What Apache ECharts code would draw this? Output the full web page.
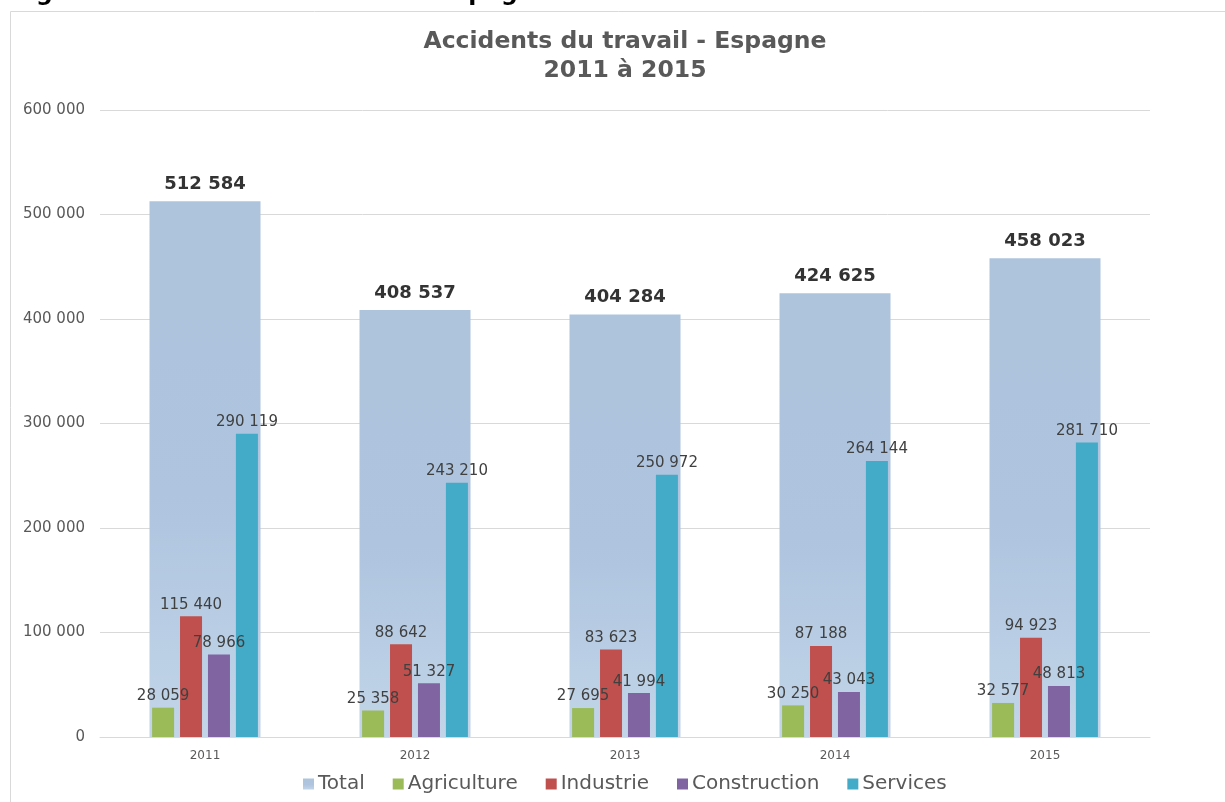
<!DOCTYPE html>
<html>
<head>
<meta charset="utf-8">
<title>Accidents du travail - Espagne</title>
<script src="https://cdn.jsdelivr.net/npm/echarts@6/dist/echarts.min.js"></script>
<style>
  html, body { margin: 0; padding: 0; background: #fff; }
  #chart { width: 1225px; height: 802px; }
</style>
</head>
<body>
<div id="chart"></div>
<script>
  // données
  const years = ['2011', '2012', '2013', '2014', '2015'];
  const total = [512584, 408537, 404284, 424625, 458023];
  const agriculture = [28059, 25358, 27695, 30250, 32577];
  const industrie = [115440, 88642, 83623, 87188, 94923];
  const construction = [78966, 51327, 41994, 43043, 48813];
  const services = [290119, 243210, 250972, 264144, 281710];
  const yTicks = [0, 100000, 200000, 300000, 400000, 500000, 600000];

  const font = 'DejaVu Sans, Verdana, sans-serif';
  const fmt = v => String(v).replace(/\B(?=(\d{3})+(?!\d))/g, ' ');

  const chart = echarts.init(document.getElementById('chart'));

  const subSerie = (name, data, color) => ({
    name: name,
    type: 'bar',
    xAxisIndex: 1,
    yAxisIndex: 0,
    barWidth: 22,
    barGap: '27%',
    data: data,
    itemStyle: {color: color},
    label: {
      show: true,
      position: 'top',
      distance: 4,
      color: '#404040',
      fontFamily: font,
      fontSize: 15,
      formatter: p => fmt(p.value),
    },
    z: 3,
  });

  chart.setOption({
    animation: false,
    graphic: [
      {
        type: 'rect',
        shape: {x: 10.5, y: 11.5, width: 1240, height: 820},
        style: {fill: 'none', stroke: '#d9d9d9', lineWidth: 1},
        silent: true,
      },
      {
        // légende de la figure, coupée en haut de l'image
        type: 'text',
        x: 12,
        y: -18,
        style: {
          text: 'Figure 1 : Accidents du travail - Espagne',
          fontFamily: font,
          fontSize: 23.5,
          fontWeight: 'bold',
          fill: '#000',
        },
        silent: true,
      },
      {
        type: 'text',
        x: 625,
        y: 27,
        style: {
          text: 'Accidents du travail - Espagne\n2011 à 2015',
          align: 'center',
          fontFamily: font,
          fontSize: 23.5,
          fontWeight: 'bold',
          fill: '#595959',
          lineHeight: 29,
        },
        silent: true,
      },
    ],
    legend: {
      bottom: 3,
      left: 298,
      itemWidth: 11,
      itemHeight: 11,
      itemGap: 28,
      icon: 'rect',
      textStyle: {fontFamily: font, fontSize: 20, color: '#595959', padding: [0, 0, 0, -1]},
      data: ['Total', 'Agriculture', 'Industrie', 'Construction', 'Services'],
    },
    grid: {left: 100, right: 75, top: 110, bottom: 65},
    xAxis: [
      {
        type: 'category',
        data: years,
        axisLine: {lineStyle: {color: '#d9d9d9'}},
        axisTick: {show: false},
        axisLabel: {fontFamily: font, fontSize: 12, color: '#595959', margin: 13},
      },
      {
        type: 'category',
        data: years,
        show: false,
      },
    ],
    yAxis: {
      type: 'value',
      min: yTicks[0],
      max: yTicks[yTicks.length - 1],
      interval: 100000,
      axisLine: {show: false},
      axisTick: {show: false},
      splitLine: {lineStyle: {color: '#d9d9d9'}},
      axisLabel: {
        fontFamily: font,
        fontSize: 15,
        color: '#595959',
        margin: 15,
        formatter: v => fmt(v),
      },
    },
    series: [
      {
        name: 'Total',
        type: 'bar',
        xAxisIndex: 0,
        barWidth: 111,
        data: total,
        itemStyle: {
          color: new echarts.graphic.LinearGradient(0, 0, 0, 1, [
            {offset: 0, color: '#aec4dd'},
            {offset: 0.55, color: '#aec4df'},
            {offset: 1, color: '#c2d5e8'},
          ]),
        },
        label: {
          show: true,
          position: 'top',
          distance: 8,
          color: '#333',
          fontFamily: font,
          fontSize: 18,
          fontWeight: 'bold',
          formatter: p => fmt(p.value),
        },
        z: 2,
      },
      subSerie('Agriculture', agriculture, '#9bbb59'),
      subSerie('Industrie', industrie, '#c0504d'),
      subSerie('Construction', construction, '#8064a2'),
      subSerie('Services', services, '#43abc8'),
    ],
  });
</script>
</body>
</html>
